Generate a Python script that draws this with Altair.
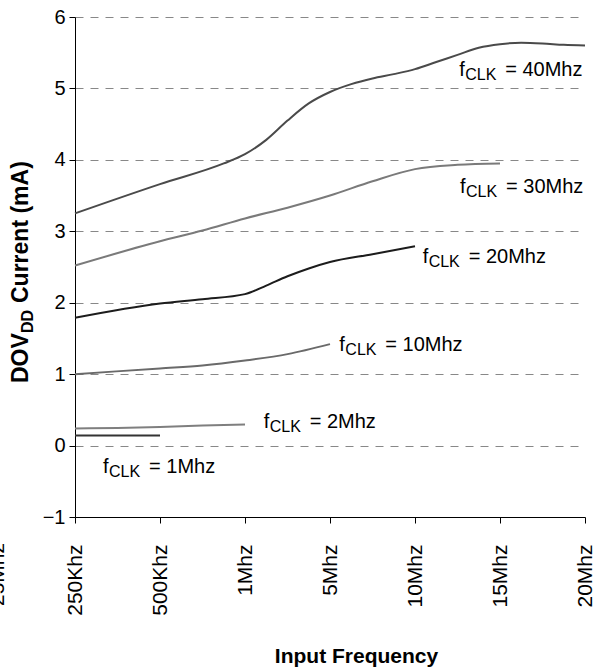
import altair as alt
import pandas as pd

# Category labels along the frequency axis (evenly spaced positions 0..6)
tick_labels = ["250Khz", "500Khz", "1Mhz", "5Mhz", "10Mhz", "15Mhz", "20Mhz"]

# Clock settings, one curve each
clk_names = ["1Mhz", "2Mhz", "10Mhz", "20Mhz", "30Mhz", "40Mhz"]
line_colors = ["#333333", "#7f7f7f", "#6a6a6a", "#1c1c1c", "#7a7a7a", "#4a4a4a"]

# DOVDD current (mA) against input-frequency position
f1_x = [0, 1]
f1_ma = [0.14, 0.14]

f2_x = [0, 0.5, 1, 1.5, 2]
f2_ma = [0.24, 0.245, 0.26, 0.28, 0.295]

f10_x = [0, 1, 1.5, 2, 2.5, 3]
f10_ma = [1.00, 1.08, 1.12, 1.19, 1.28, 1.42]

f20_x = [0, 1, 1.5, 2, 2.25, 2.5, 2.75, 3, 3.5, 4]
f20_ma = [1.79, 1.99, 2.05, 2.12, 2.24, 2.37, 2.48, 2.57, 2.68, 2.79]

f30_x = [0, 1, 1.5, 2, 2.5, 3, 3.5, 4, 4.5, 5]
f30_ma = [2.52, 2.86, 3.01, 3.18, 3.33, 3.50, 3.70, 3.87, 3.93, 3.95]

f40_x = [0, 1, 1.75, 2, 2.25, 2.5, 2.75, 3, 3.25, 3.5, 3.75, 4, 4.25, 4.5,
         4.75, 5, 5.25, 5.5, 5.75, 6]
f40_ma = [3.25, 3.66, 3.95, 4.08, 4.28, 4.55, 4.79, 4.95, 5.06, 5.14, 5.20,
          5.27, 5.37, 5.47, 5.57, 5.62, 5.64, 5.63, 5.61, 5.60]

# Where each "fCLK = ..." label starts (position, mA at text baseline)
label_x = [0.33, 2.22, 3.11, 4.09, 4.53, 4.52]
label_y = [-0.38, 0.25, 1.33, 2.55, 3.54, 5.17]

series = [(f1_x, f1_ma), (f2_x, f2_ma), (f10_x, f10_ma),
          (f20_x, f20_ma), (f30_x, f30_ma), (f40_x, f40_ma)]
rows = []
for name, (xs, ys) in zip(clk_names, series):
    for x, y in zip(xs, ys):
        rows.append({"clk": name, "pos": x, "ma": y})
curves = pd.DataFrame(rows)

labels = pd.DataFrame({
    "clk": clk_names,
    "pos": label_x,
    "ma": label_y,
    "eq": ["= " + n for n in clk_names],
})

FONT = "Liberation Sans"
label_expr = "[" + ",".join("'%s'" % t for t in tick_labels) + "][datum.value]"

x_enc = alt.X(
    "pos:Q",
    scale=alt.Scale(domain=[0, 6], nice=False, zero=False),
    axis=alt.Axis(
        values=list(range(len(tick_labels))),
        labelExpr=label_expr,
        labelAngle=270,
        labelAlign="right",
        labelBaseline="middle",
        labelPadding=21,
        labelFontSize=21,
        tickSize=6,
        grid=False,
        title="Input Frequency",
        titleFont=FONT,
        titleFontSize=21,
        titleFontWeight="bold",
        titleX=281,
        titleY=145,
        titleAlign="center",
        titleBaseline="alphabetic",
    ),
)
y_enc = alt.Y(
    "ma:Q",
    scale=alt.Scale(domain=[-1, 6], nice=False, zero=False),
    axis=alt.Axis(
        values=list(range(-1, 7)),
        format="d",
        grid=True,
        gridDash=[8, 7],
        gridColor="#888888",
        gridWidth=1,
        tickSize=6,
        labelPadding=4,
        title="",
    ),
)

lines = alt.Chart(curves).mark_line(strokeWidth=2, interpolate="monotone").encode(
    x=x_enc,
    y=y_enc,
    color=alt.Color("clk:N", scale=alt.Scale(domain=clk_names, range=line_colors), legend=None),
    detail="clk:N",
)

base_lab = alt.Chart(labels)
lab_f = base_lab.mark_text(font=FONT, fontSize=20, align="left", baseline="alphabetic", color="black").encode(
    x="pos:Q", y="ma:Q", text=alt.value("f"))
lab_clk = base_lab.mark_text(font=FONT, fontSize=16, align="left", baseline="alphabetic", color="black",
                             dx=6, dy=4).encode(x="pos:Q", y="ma:Q", text=alt.value("CLK"))
lab_eq = base_lab.mark_text(font=FONT, fontSize=20, align="left", baseline="alphabetic", color="black",
                            dx=46).encode(x="pos:Q", y="ma:Q", text="eq:N")

# Vertical axis title with a subscript, built from three rotated pieces
one = pd.DataFrame({"k": [0]})
ttl = dict(font=FONT, fontWeight="bold", angle=270, align="left", baseline="alphabetic", color="black")
t_dov = alt.Chart(one).mark_text(fontSize=23, **ttl).encode(
    x=alt.value(-47), y=alt.value(366), text=alt.value("DOV"))
t_dd = alt.Chart(one).mark_text(fontSize=16, dx=50, dy=5, **ttl).encode(
    x=alt.value(-47), y=alt.value(366), text=alt.value("DD"))
t_cur = alt.Chart(one).mark_text(fontSize=23, dx=80, **ttl).encode(
    x=alt.value(-47), y=alt.value(366), text=alt.value("Current (mA)"))

stray = alt.Chart(one).mark_text(font=FONT, fontSize=21, angle=270, align="right", baseline="middle",
                                 color="black").encode(
    x=alt.value(-77), y=alt.value(526), text=alt.value("25Mhz"))

chart = alt.layer(lines, lab_f, lab_clk, lab_eq, t_dov, t_dd, t_cur, stray).properties(
    width=510,
    height=500,
    autosize=alt.AutoSizeParams(type="none"),
    padding={"left": 75, "top": 17, "right": 10, "bottom": 151},
).configure_axis(
    labelFont=FONT,
    labelFontSize=20,
    labelColor="black",
    tickColor="black",
    tickWidth=1,
    domainColor="black",
    domainWidth=1,
).configure_view(strokeWidth=0)

chart.save("out.html", embed_options={"renderer": "svg", "actions": False})
